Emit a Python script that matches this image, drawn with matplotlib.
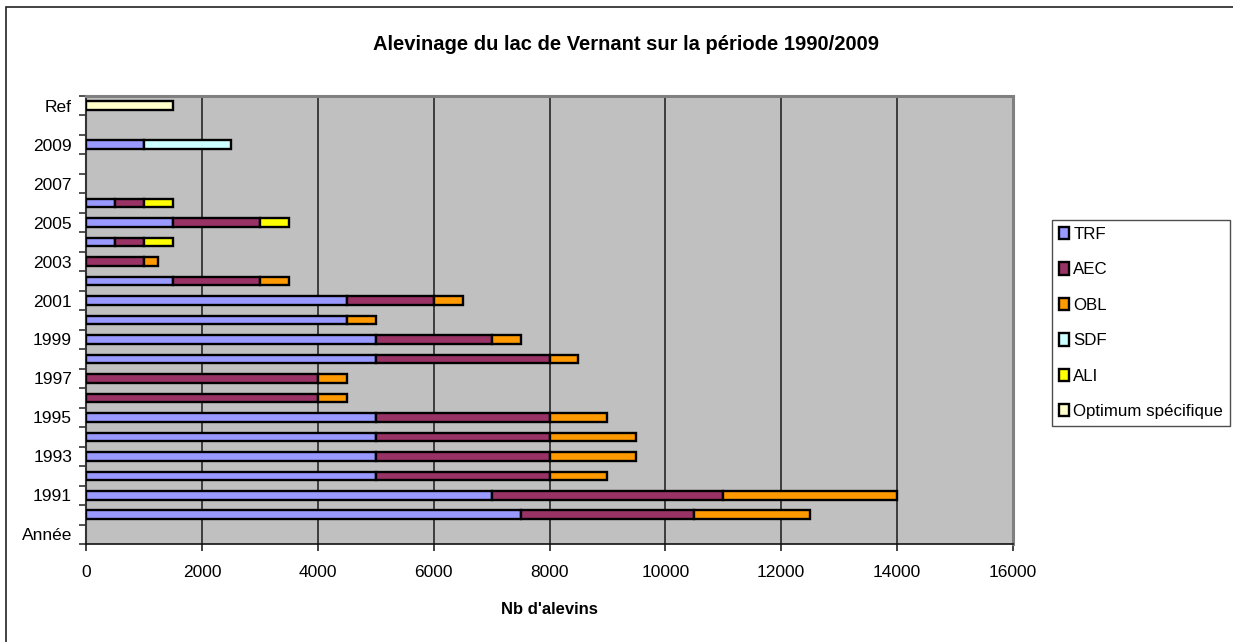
import matplotlib
matplotlib.use("Agg")
import matplotlib.pyplot as plt
import numpy as np
from matplotlib.patches import Rectangle

plt.rcParams['font.family'] = ['Liberation Sans', 'DejaVu Sans']

# Categories, bottom to top (one unnamed row between 2009 and Ref)
categories = ["Année", "1990", "1991", "1992", "1993", "1994", "1995", "1996",
              "1997", "1998", "1999", "2000", "2001", "2002", "2003", "2004",
              "2005", "2006", "2007", "2008", "2009", "", "Ref"]

# Number of fry stocked per species and year
trf = [0, 7500, 7000, 5000, 5000, 5000, 5000, 0, 0, 5000, 5000, 4500, 4500,
       1500, 0, 500, 1500, 500, 0, 0, 1000, 0, 0]
aec = [0, 3000, 4000, 3000, 3000, 3000, 3000, 4000, 4000, 3000, 2000, 0, 1500,
       1500, 1000, 500, 1500, 500, 0, 0, 0, 0, 0]
obl = [0, 2000, 3000, 1000, 1500, 1500, 1000, 500, 500, 500, 500, 500, 500,
       500, 250, 0, 0, 0, 0, 0, 0, 0, 0]
sdf = [0] * 20 + [1500, 0, 0]
ali = [0] * 15 + [500, 500, 500] + [0] * 5
optimum = [0] * 22 + [1500]

series_names = ["TRF", "AEC", "OBL", "SDF", "ALI", "Optimum spécifique"]
series_values = [trf, aec, obl, sdf, ali, optimum]
series_colors = ["#9999FF", "#993366", "#FF9900", "#CCFFFF", "#FFFF00", "#FFFFCC"]

x_ticks = [0, 2000, 4000, 6000, 8000, 10000, 12000, 14000, 16000]

W, H = 1233, 642
fig = plt.figure(figsize=(W / 100, H / 100), dpi=100)
fig.patch.set_facecolor("white")

# chart-area frame
fig.patches.append(Rectangle((6 / W, -0.1), 1.2, 1 - 7 / H + 0.1,
                             transform=fig.transFigure, fill=False,
                             edgecolor="#222222", linewidth=1.2))

ax = fig.add_axes([86 / W, 1 - 544 / H, (1013 - 86) / W, (544 - 96) / H])
ax.set_facecolor("#C0C0C0")

ypos = np.arange(len(categories))
left = np.zeros(len(categories))
handles = []
for name, vals, col in zip(series_names, series_values, series_colors):
    v = np.array(vals, dtype=float)
    m = v > 0
    bars = ax.barh(ypos[m], v[m], left=left[m], height=0.44, color=col,
                   edgecolor="black", linewidth=1.7, label=name, zorder=3)
    handles.append(bars)
    left += v

ax.set_xlim(0, 16000)
ax.set_ylim(-0.5, len(categories) - 0.5)
ax.set_xticks(x_ticks)
ax.set_xticklabels([str(t) for t in x_ticks], fontsize=12.5)

# labels on every other category, tick marks on category boundaries
ax.set_yticks(ypos[::2])
ax.set_yticklabels([categories[i] for i in ypos[::2]], fontsize=12.5)
ax.tick_params(axis="y", which="major", length=0, pad=10)
ax.set_yticks(np.arange(-0.5, len(categories), 1.0), minor=True)
ax.tick_params(axis="y", which="minor", length=5, width=1.2, color="#333333",
               direction="out")
ax.tick_params(axis="x", length=5, width=1.2, color="#222222", pad=10)

for t in x_ticks[1:-1]:
    ax.axvline(t, color="#1a1a1a", linewidth=1.1, zorder=1)

for side in ("top", "right"):
    ax.spines[side].set_color("#808080")
    ax.spines[side].set_linewidth(2.2)
ax.spines["left"].set_color("#333333")
ax.spines["left"].set_linewidth(1.5)
ax.spines["bottom"].set_color("#111111")
ax.spines["bottom"].set_linewidth(1.2)

fig.text(626 / W, 1 - 45 / H, "Alevinage du lac de Vernant sur la période 1990/2009",
         ha="center", va="center", fontsize=14.5, fontweight="bold")
fig.text(549 / W, 1 - 610 / H, "Nb d'alevins", ha="center", va="center",
         fontsize=12, fontweight="bold")

leg = fig.legend(handles=handles, labels=series_names, loc="upper left",
                 bbox_to_anchor=(1052 / W, 1 - 220 / H),
                 bbox_transform=fig.transFigure, borderaxespad=0,
                 fontsize=12.2, handlelength=0.6, handleheight=0.75,
                 handletextpad=0.25, labelspacing=1.2, borderpad=0.4,
                 fancybox=False, frameon=True)
leg.get_frame().set_edgecolor("#222222")
leg.get_frame().set_linewidth(1.0)

fig.savefig("out.png", dpi=100)
